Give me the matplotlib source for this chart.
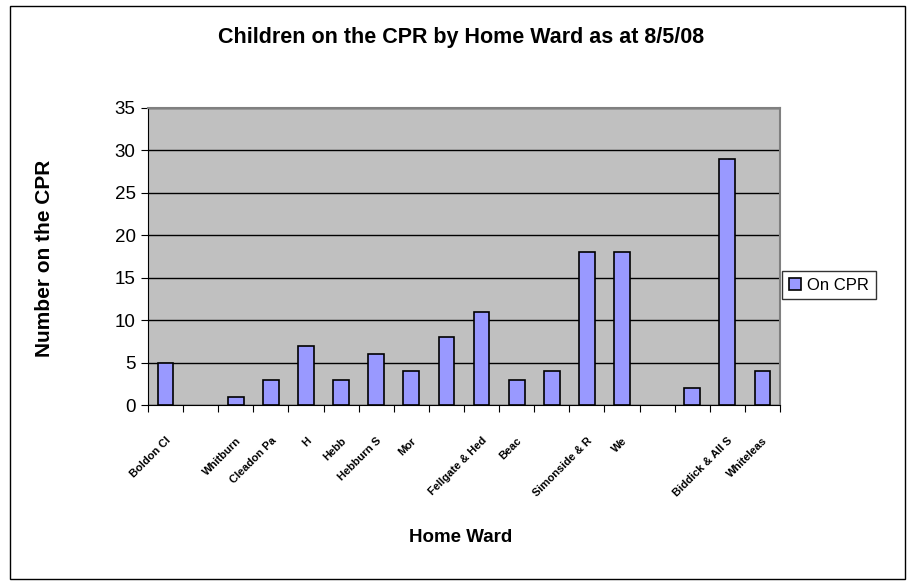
import matplotlib
matplotlib.use("Agg")
import matplotlib.pyplot as plt
from matplotlib.patches import Rectangle
import numpy as np

wards = ["Boldon Cl", "", "Whitburn", "Cleadon Pa", "H", "Hebb", "Hebburn S",
         "Mor", "", "Fellgate & Hed", "Beac", "", "Simonside & R", "We", "",
         "", "Biddick & All S", "Whiteleas"]
on_cpr = [5, 0, 1, 3, 7, 3, 6, 4, 8, 11, 3, 4, 18, 18, 0, 2, 29, 4]
yticks = [0, 5, 10, 15, 20, 25, 30, 35]

fig = plt.figure(figsize=(9.16, 5.85), dpi=100)
fig.patch.set_facecolor("white")
fig.add_artist(Rectangle((10/916, 1-579/585), 895/916, 573/585, transform=fig.transFigure,
                         fill=False, edgecolor="black", linewidth=1))

ax = fig.add_axes([148/916, 1-405/585, 632/916, 297/585])
ax.set_facecolor("#C0C0C0")
x = np.arange(len(on_cpr))
bars = ax.bar(x, on_cpr, width=0.45, color="#9999FF", edgecolor="black", linewidth=1.2,
              label="On CPR", zorder=3)
for b, v in zip(bars, on_cpr):
    if v == 0:
        b.set_linewidth(0)
ax.set_xlim(-0.5, len(on_cpr) - 0.5)
ax.set_ylim(0, 35)
ax.set_yticks(yticks)
ax.set_yticklabels([str(v) for v in yticks], fontsize=13.5, family="Liberation Sans")
ax.yaxis.grid(True, color="black", linewidth=1, zorder=1)
ax.set_axisbelow(True)

ax.set_xticks(np.arange(-0.5, len(on_cpr), 1.0))
ax.set_xticklabels([])
ax.set_xticks(x, minor=True)
ax.set_xticklabels(wards, minor=True, rotation=45, ha="right", rotation_mode="anchor",
                   fontsize=8, family="Liberation Sans", fontweight="bold")
ax.tick_params(axis="x", which="minor", length=0, pad=22)
ax.tick_params(axis="x", which="major", length=5, direction="out")
ax.tick_params(axis="y", length=5, direction="out", pad=4)

for s in ["top", "right"]:
    ax.spines[s].set_color("#808080")
    ax.spines[s].set_linewidth(1.5)
for s in ["left", "bottom"]:
    ax.spines[s].set_color("black")

fig.text(461/916, 1-38/585, "Children on the CPR by Home Ward as at 8/5/08",
         ha="center", va="center", fontsize=15.5, fontweight="bold", family="Liberation Sans")
fig.text(461/916, 1-538/585, "Home Ward", ha="center", va="center",
         fontsize=13.5, fontweight="bold", family="Liberation Sans")
fig.text(45/916, 1-258/585, "Number on the CPR", ha="center", va="center", rotation=90,
         fontsize=15, fontweight="bold", family="Liberation Sans")

leg = fig.legend(loc="center left", bbox_to_anchor=(774/916, 1-285/585), frameon=True,
                 fancybox=False, edgecolor="black", handlelength=0.7,
                 handleheight=0.7, handletextpad=0.4, borderpad=0.4,
                 prop={"family": "Liberation Sans", "size": 12})
leg.get_frame().set_linewidth(1)

fig.savefig("out.png", dpi=100)
